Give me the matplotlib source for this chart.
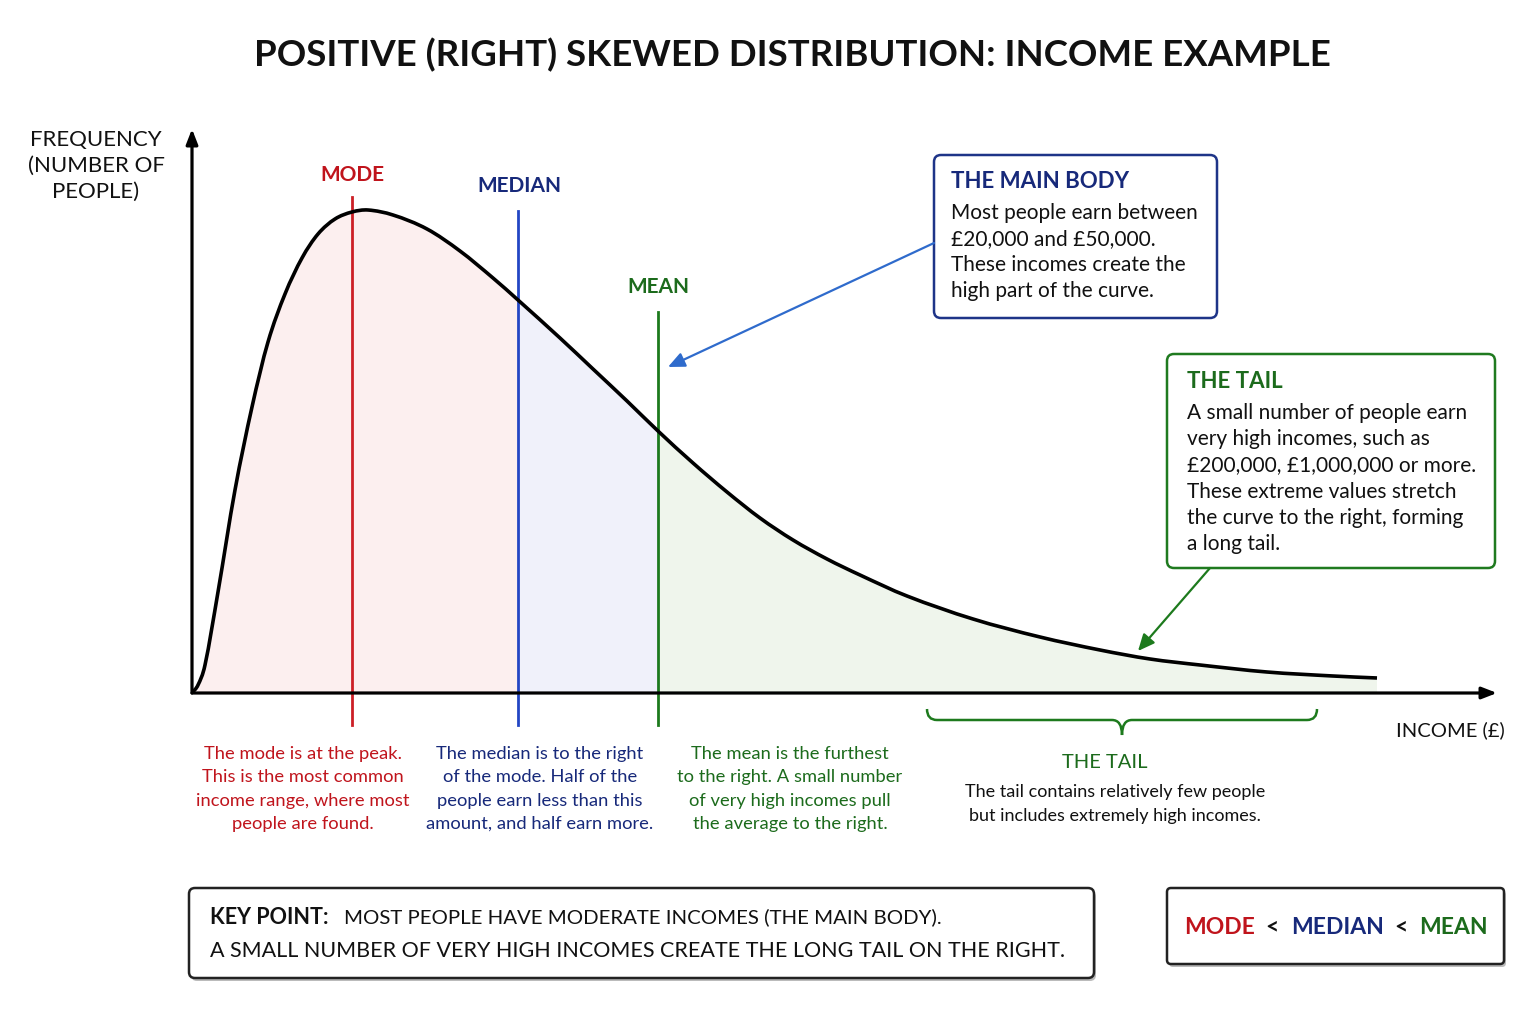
import matplotlib
matplotlib.use("Agg")
import matplotlib.pyplot as plt
from matplotlib.patches import FancyBboxPatch, PathPatch
from matplotlib.path import Path
import numpy as np

plt.rcParams['font.family'] = ['Lato', 'DejaVu Sans']

# ---------------- data ----------------
income = [0.0, 0.6, 1.3, 2.6, 4.3, 6.0, 7.6, 9.3, 11.0, 12.6, 14.3, 16.0, 17.6,
          20.1, 23.5, 26.8, 30.1, 32.6, 36.8, 40.1, 43.5, 46.6, 50.1, 53.5,
          56.8, 60.1, 63.5, 66.8, 71.5, 78.1, 84.8, 90.8, 95.8, 100.8,
          107.5, 114.1, 118.5]
frequency = [0.0, 1.6, 5.6, 20.2, 40.6, 57.2, 70.2, 79.8, 87.0, 91.8, 94.8, 96.2, 96.6,
             95.6, 92.8, 88.4, 83.0, 78.6, 71.0, 64.8, 58.4, 52.4, 46.0, 40.2,
             35.0, 30.6, 26.8, 23.6, 19.4, 14.8, 11.2, 8.6, 6.8, 5.6,
             4.2, 3.4, 3.0]
mode_x, median_x, mean_x = 16.0, 32.6, 46.6
tail_range = (73.5, 112.5)

RED_T, RED_L = '#c0141c', '#cc1f26'
NAVY_T, BLUE_L = '#17297a', '#2346c4'
GREEN_T, GREEN_L = '#1c6b1c', '#1d7a1d'
ARROW_BLUE = '#2f6bcc'

W, H = 1533, 1026
fig = plt.figure(figsize=(W / 100, H / 100), dpi=100)
fig.patch.set_facecolor('white')

# overlay in pixel coordinates for text / boxes
ov = fig.add_axes([0, 0, 1, 1])
ov.set_xlim(0, W)
ov.set_ylim(H, 0)
ov.axis('off')

# data axes
x0, x1, y0, y1 = 192, 1497, 693, 129
ax = fig.add_axes([x0 / W, (H - y0) / H, (x1 - x0) / W, (y0 - y1) / H])
ax.set_xlim(0, (x1 - x0) / 10)
ax.set_ylim(0, (y0 - y1) / 5)
ax.axis('off')
ax.patch.set_alpha(0)

# smooth path through the read points (cubic Hermite segments drawn as Bezier curves)
X = np.array(income)
Y = np.array(frequency)
n = len(X)
m = np.empty(n)
m[0] = (Y[1] - Y[0]) / (X[1] - X[0])
m[-1] = (Y[-1] - Y[-2]) / (X[-1] - X[-2])
for i in range(1, n - 1):
    m[i] = (Y[i + 1] - Y[i - 1]) / (X[i + 1] - X[i - 1])
verts = [(X[0], Y[0])]
codes = [Path.MOVETO]
for i in range(n - 1):
    d = (X[i + 1] - X[i]) / 3.0
    verts += [(X[i] + d, Y[i] + d * m[i]), (X[i + 1] - d, Y[i + 1] - d * m[i + 1]), (X[i + 1], Y[i + 1])]
    codes += [Path.CURVE4] * 3
curve_path = Path(verts, codes)
area_path = Path(verts + [(X[-1], 0), (0, 0), (0, 0)],
                 codes + [Path.LINETO, Path.LINETO, Path.CLOSEPOLY])

for a, b, col in [(0, median_x, '#fcefef'), (median_x, mean_x, '#f0f1fa'),
                  (mean_x, X[-1], '#eff5ec')]:
    span = ax.axvspan(a, b, color=col, lw=0, zorder=1)
    span.set_clip_path(area_path, ax.transData)
ax.add_patch(PathPatch(curve_path, fill=False, edgecolor='black', lw=2.6, zorder=4))

# axes arrows
for tip in [(1.0, 0), (0, 1.0)]:
    ax.annotate('', xy=tip, xytext=(0, 0), xycoords='axes fraction',
                arrowprops=dict(arrowstyle='-|>,head_length=0.9,head_width=0.35', color='black',
                                lw=2.3, shrinkA=0, shrinkB=0), zorder=5)

# mode / median / mean lines
for xv, top, col in [(mode_x, 99.2, RED_L), (median_x, 96.4, BLUE_L), (mean_x, 76.2, GREEN_L)]:
    ax.plot([xv, xv], [-6.4, top], color=col, lw=2.0, clip_on=False, zorder=3)

# labels
ov.text(792, 55, 'POSITIVE (RIGHT) SKEWED DISTRIBUTION: INCOME EXAMPLE', ha='center', va='center',
        fontsize=26.4, fontweight='bold', color='#111111')
ov.text(96, 166, 'FREQUENCY\n(NUMBER OF\nPEOPLE)', ha='center', va='center', fontsize=16,
        color='#111111', linespacing=1.38)
ov.text(352, 175, 'MODE', ha='center', va='center', fontsize=15, color=RED_T, fontweight='bold')
ov.text(519, 186, 'MEDIAN', ha='center', va='center', fontsize=15, color=NAVY_T, fontweight='bold')
ov.text(658, 287, 'MEAN', ha='center', va='center', fontsize=15, color=GREEN_T, fontweight='bold')
ov.text(1505, 730, 'INCOME (£)', ha='right', va='center', fontsize=14.5, color='#111111')

desc_kw = dict(ha='center', va='top', fontsize=13.2, linespacing=1.56)
ov.text(303, 746, 'The mode is at the peak.\nThis is the most common\nincome range, where most\npeople are found.',
        color=RED_T, **desc_kw)
ov.text(540, 746, 'The median is to the right\nof the mode. Half of the\npeople earn less than this\namount, and half earn more.',
        color=NAVY_T, **desc_kw)
ov.text(790, 746, 'The mean is the furthest\nto the right. A small number\nof very high incomes pull\nthe average to the right.',
        color=GREEN_T, **desc_kw)

# brace under the tail
bx0 = x0 + tail_range[0] * 10
bx1 = x0 + tail_range[1] * 10
bm = (bx0 + bx1) / 2
by0, by1, by2 = 709, 720, 735
bverts = [(bx0, by0), (bx0, by1), (bx0 + 10, by1),
          (bm - 10, by1), (bm, by1), (bm, by2),
          (bm, by1), (bm + 10, by1),
          (bx1 - 10, by1), (bx1, by1), (bx1, by0)]
bcodes = [Path.MOVETO, Path.CURVE3, Path.CURVE3,
          Path.LINETO, Path.CURVE3, Path.CURVE3,
          Path.CURVE3, Path.CURVE3,
          Path.LINETO, Path.CURVE3, Path.CURVE3]
ov.add_patch(PathPatch(Path(bverts, bcodes), fill=False, edgecolor=GREEN_L, lw=1.8))
ov.text(1105, 763, 'THE TAIL', ha='center', va='center', fontsize=14.5, color=GREEN_T)
ov.text(1115, 784, 'The tail contains relatively few people\nbut includes extremely high incomes.',
        ha='center', va='top', fontsize=13, color='#111111', linespacing=1.6)

# main body box
ov.add_patch(FancyBboxPatch((934, 155), 283, 163, boxstyle='round,pad=0,rounding_size=7',
                            fc='white', ec='#1e3488', lw=1.8, zorder=3))
ov.text(951, 182, 'THE MAIN BODY', ha='left', va='center', fontsize=16, color=NAVY_T,
        fontweight='bold', zorder=4)
ov.text(951, 203, 'Most people earn between\n£20,000 and £50,000.\nThese incomes create the\nhigh part of the curve.',
        ha='left', va='top', fontsize=15, color='#111111', linespacing=1.38, zorder=4)
ov.annotate('', xy=(668, 367), xytext=(934, 243),
            arrowprops=dict(arrowstyle='-|>,head_length=1.0,head_width=0.45', color=ARROW_BLUE,
                            lw=1.6, shrinkA=0, shrinkB=0))

# tail box
ov.add_patch(FancyBboxPatch((1167, 354), 328, 214, boxstyle='round,pad=0,rounding_size=7',
                            fc='white', ec='#1f7a1f', lw=1.8, zorder=3))
ov.text(1187, 381, 'THE TAIL', ha='left', va='center', fontsize=16, color=GREEN_T,
        fontweight='bold', zorder=4)
ov.text(1187, 403, 'A small number of people earn\nvery high incomes, such as\n£200,000, £1,000,000 or more.\n'
        'These extreme values stretch\nthe curve to the right, forming\na long tail.',
        ha='left', va='top', fontsize=15, color='#111111', linespacing=1.39, zorder=4)
ov.annotate('', xy=(1138, 651), xytext=(1210, 568),
            arrowprops=dict(arrowstyle='-|>,head_length=1.0,head_width=0.45', color=GREEN_L,
                            lw=1.6, shrinkA=0, shrinkB=0))

# key point box
ov.add_patch(FancyBboxPatch((191, 891), 905, 90, boxstyle='round,pad=0,rounding_size=6',
                            fc='#bbbbbb', ec='none', zorder=2))
ov.add_patch(FancyBboxPatch((189, 888), 905, 90, boxstyle='round,pad=0,rounding_size=6',
                            fc='white', ec='#222222', lw=1.8, zorder=3))
fig.canvas.draw()
r = fig.canvas.get_renderer()
kp = ov.text(210, 917, 'KEY POINT:', ha='left', va='center', fontsize=15.5, fontweight='bold',
             color='#111111', zorder=4)
kw = kp.get_window_extent(r).width
ov.text(210 + kw + 16, 917, 'MOST PEOPLE HAVE MODERATE INCOMES (THE MAIN BODY).', ha='left', va='center',
        fontsize=14.7, color='#111111', zorder=4)
ov.text(210, 951, 'A SMALL NUMBER OF VERY HIGH INCOMES CREATE THE LONG TAIL ON THE RIGHT.',
        ha='left', va='center', fontsize=15.5, color='#111111', zorder=4)

# order box
ov.add_patch(FancyBboxPatch((1169, 891), 337, 76, boxstyle='round,pad=0,rounding_size=4',
                            fc='#bbbbbb', ec='none', zorder=2))
ov.add_patch(FancyBboxPatch((1167, 888), 337, 76, boxstyle='round,pad=0,rounding_size=4',
                            fc='white', ec='#222222', lw=1.8, zorder=3))
parts = [('MODE', RED_T), ('  <  ', '#111111'), ('MEDIAN', NAVY_T), ('  <  ', '#111111'), ('MEAN', GREEN_T)]
texts = []
total = 0
for s, c in parts:
    t = ov.text(0, 927, s, ha='left', va='center', fontsize=16.5, color=c, fontweight='bold', zorder=4)
    wpx = t.get_window_extent(r).width
    texts.append((t, wpx))
    total += wpx
cur = 1336 - total / 2
for t, wpx in texts:
    t.set_x(cur)
    cur += wpx

fig.savefig('out.png', dpi=100, facecolor='white')
